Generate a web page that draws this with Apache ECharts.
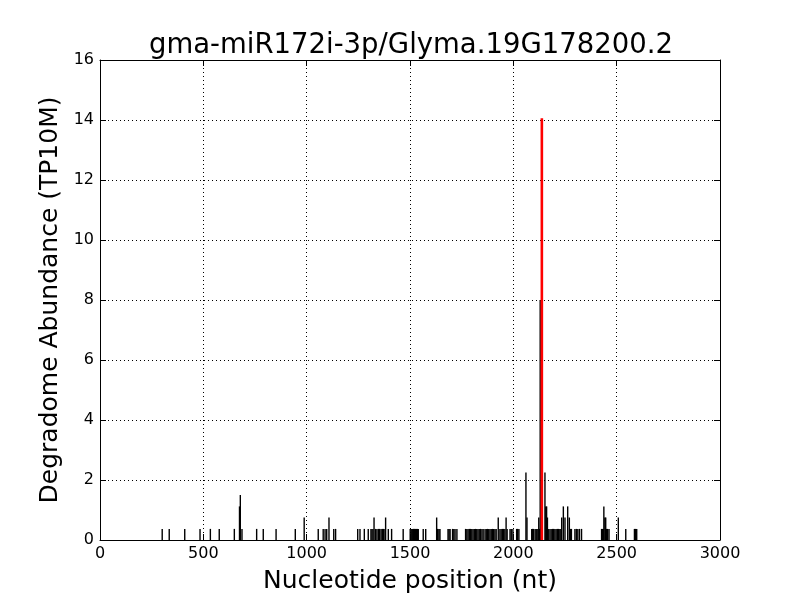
<!DOCTYPE html>
<html>
<head>
<meta charset="utf-8">
<script src="https://cdn.jsdelivr.net/npm/echarts@6/dist/echarts.min.js"></script>
<style>html,body{margin:0;padding:0;background:#fff}#c{width:800px;height:600px}</style>
</head>
<body>
<div id="c"></div>
<script>
var titleText = "gma-miR172i-3p/Glyma.19G178200.2";
var xTicks = [0, 500, 1000, 1500, 2000, 2500, 3000];
var yTicks = [0, 2, 4, 6, 8, 10, 12, 14, 16];

// Degradome reads (position in nt, abundance in TP10M)
var readPos = [
  301, 335, 410, 484, 534, 577, 650, 675, 679, 687,
  758, 790, 852, 945, 988, 1056, 1080, 1089, 1097, 1108, 1131, 1140,
  1247, 1258, 1279, 1298, 1311, 1316, 1321, 1326, 1333, 1340, 1347, 1353, 1360, 1366, 1372, 1379, 1382, 1395, 1411, 1467,
  1501, 1506, 1511, 1516, 1521, 1526, 1531, 1536, 1540, 1564,
  1576, 1629, 1634, 1640, 1645, 1684, 1689, 1694, 1706, 1712, 1718, 1727,
  1769, 1775, 1781, 1787, 1793, 1799, 1805, 1811, 1817, 1823, 1829, 1835, 1841, 1848, 1854,
  1863, 1869, 1875, 1881, 1887, 1893, 1899, 1905, 1911, 1917, 1927, 1935, 1941, 1947, 1953, 1959, 1965, 1970, 1984, 1990, 1998,
  2016, 2021, 2027, 2061, 2066, 2089, 2093, 2097, 2105, 2110, 2114, 2119, 2123, 2127, 2130,
  2153, 2157, 2161, 2165, 2169, 2177, 2183, 2189, 2195, 2201, 2207, 2213, 2219, 2225, 2230,
  2234, 2242, 2250, 2263, 2271, 2276, 2281, 2298, 2305, 2312, 2320, 2330,
  2427, 2431, 2435, 2438, 2443, 2447, 2451, 2456, 2463, 2508, 2544, 2586, 2592, 2597
];
var readAbund = [
  0.37, 0.37, 0.37, 0.37, 0.37, 0.37, 0.37, 1.12, 1.5, 0.37,
  0.37, 0.37, 0.37, 0.37, 0.75, 0.37, 0.37, 0.37, 0.37, 0.75, 0.37, 0.37,
  0.37, 0.37, 0.37, 0.37, 0.37, 0.37, 0.37, 0.75, 0.37, 0.37, 0.37, 0.37, 0.37, 0.37, 0.37, 0.37, 0.75, 0.37, 0.37, 0.37,
  0.37, 0.37, 0.37, 0.37, 0.37, 0.37, 0.37, 0.37, 0.37, 0.37,
  0.37, 0.75, 0.37, 0.37, 0.37, 0.37, 0.37, 0.37, 0.37, 0.37, 0.37, 0.37,
  0.37, 0.37, 0.37, 0.37, 0.37, 0.37, 0.37, 0.37, 0.37, 0.37, 0.37, 0.37, 0.37, 0.37, 0.37,
  0.37, 0.37, 0.37, 0.37, 0.37, 0.37, 0.37, 0.37, 0.37, 0.37, 0.75, 0.37, 0.37, 0.37, 0.37, 0.37, 0.75, 0.37, 0.37, 0.37, 0.37,
  0.37, 0.37, 0.37, 2.25, 0.75, 0.37, 0.37, 0.37, 0.37, 0.37, 0.37, 0.37, 0.75, 0.37, 8.0,
  2.25, 1.12, 1.12, 0.75, 0.37, 0.37, 0.37, 0.37, 0.37, 0.37, 0.37, 0.37, 0.37, 0.37, 0.37,
  0.75, 1.12, 0.75, 1.12, 0.75, 0.37, 0.37, 0.37, 0.37, 0.37, 0.37, 0.37,
  0.37, 0.37, 0.37, 1.12, 0.75, 0.75, 0.37, 0.37, 0.37, 0.75, 0.37, 0.37, 0.37, 0.37
];
// Predicted cleavage site
var sitePos = [2138];
var siteAbund = [14.06];

var blackData = readPos.map(function (p, i) { return [p, readAbund[i]]; });
var redData = sitePos.map(function (p, i) { return [p, siteAbund[i]]; });

function stick(color, width) {
  return function (params, api) {
    var p0 = api.coord([api.value(0), 0]);
    var p1 = api.coord([api.value(0), api.value(1)]);
    return {
      type: 'line',
      shape: { x1: p0[0], y1: p0[1], x2: p1[0], y2: p1[1] },
      style: { stroke: color, lineWidth: width }
    };
  };
}

var font = 'DejaVu Sans';
var chart = echarts.init(document.getElementById('c'), null, { renderer: 'canvas' });
var gridLine = { show: true, lineStyle: { color: '#000', type: [1, 3], width: 1 } };
var plain = function (v) { return String(v); };
chart.setOption({
  animation: false,
  backgroundColor: '#fff',
  title: {
    text: titleText, left: 144, top: 27,
    textStyle: { fontFamily: font, fontSize: 27.5, fontWeight: 'normal', color: '#000' }
  },
  grid: { left: 100, right: 80, top: 60, bottom: 60, show: false, containLabel: false, outerBoundsMode: 'none' },
  xAxis: [{
    type: 'value', min: xTicks[0], max: xTicks[xTicks.length - 1], interval: 500,
    name: 'Nucleotide position (nt)', nameLocation: 'middle', nameGap: 29,
    nameTextStyle: { fontFamily: font, fontSize: 25, color: '#000' },
    axisLine: { show: true, onZero: false, lineStyle: { color: '#000', width: 1 } },
    axisTick: { show: true, inside: true, length: 6, lineStyle: { color: '#000' } },
    axisLabel: { fontFamily: font, fontSize: 16, color: '#000', margin: 6, formatter: plain },
    splitLine: gridLine
  }, {
    type: 'value', position: 'top', min: 0, max: 3000, interval: 500,
    axisLine: { show: true, onZero: false, lineStyle: { color: '#000', width: 1 } },
    axisTick: { show: true, inside: true, length: 6, lineStyle: { color: '#000' } },
    axisLabel: { show: false }, splitLine: { show: false }
  }],
  yAxis: [{
    type: 'value', min: yTicks[0], max: yTicks[yTicks.length - 1], interval: 2,
    name: 'Degradome Abundance (TP10M)', nameLocation: 'middle', nameGap: 33,
    nameTextStyle: { fontFamily: font, fontSize: 25, color: '#000' },
    axisLine: { show: true, onZero: false, lineStyle: { color: '#000', width: 1 } },
    axisTick: { show: true, inside: true, length: 6, lineStyle: { color: '#000' } },
    axisLabel: { fontFamily: font, fontSize: 16, color: '#000', margin: 6, formatter: plain },
    splitLine: gridLine
  }, {
    type: 'value', position: 'right', min: 0, max: 16, interval: 2,
    axisLine: { show: true, onZero: false, lineStyle: { color: '#000', width: 1 } },
    axisTick: { show: true, inside: true, length: 6, lineStyle: { color: '#000' } },
    axisLabel: { show: false }, splitLine: { show: false }
  }],
  series: [{
    type: 'custom', name: 'reads', xAxisIndex: 0, yAxisIndex: 0,
    renderItem: stick('#000000', 1.4), data: blackData, z: 2
  }, {
    type: 'custom', name: 'site', xAxisIndex: 0, yAxisIndex: 0,
    renderItem: stick('#ff0000', 2.6), data: redData, z: 3
  }]
});
</script>
</body>
</html>
